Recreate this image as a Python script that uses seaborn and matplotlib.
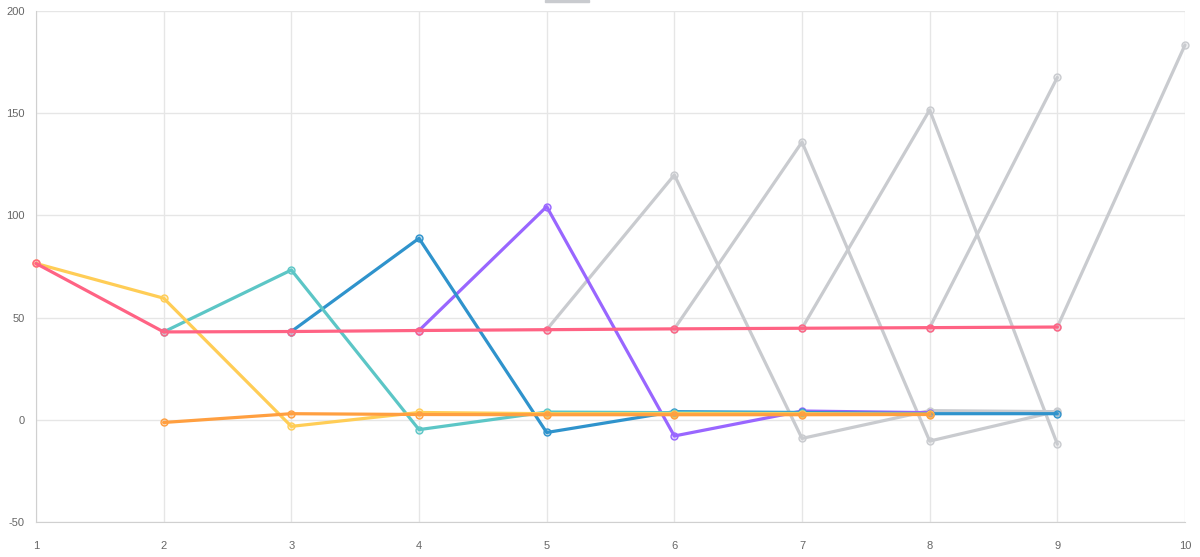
import numpy as np
import pandas as pd
import matplotlib
matplotlib.use("Agg")
import matplotlib.pyplot as plt
import matplotlib.colors as mcolors
from matplotlib.patches import Rectangle
import seaborn as sns

nan = np.nan
x = [1, 2, 3, 4, 5, 6, 7, 8, 9, 10]

pink = [76.5, 43.0, 43.2, 43.7, 44.1, 44.5, 44.8, 45.1, 45.4, nan]
orange = [nan, -1.3, 3.0, 2.6, 2.5, 2.5, 2.5, 2.6, nan, nan]
yellow = [76.5, 59.5, -3.2, 3.6, 3.0, 3.0, 3.0, 2.8, nan, nan]
teal = [nan, 43.0, 73.3, -4.8, 3.8, 3.5, 3.2, nan, nan, nan]
blue = [nan, nan, 43.2, 88.8, -6.2, 4.0, 3.6, 3.0, 3.0, nan]
purple = [nan, nan, nan, 43.7, 104.3, -7.9, 4.3, 3.5, nan, nan]
gray1 = [nan, nan, nan, nan, 44.1, 119.8, -9.1, 4.5, 4.0, nan]
gray2 = [nan, nan, nan, nan, nan, 44.5, 135.9, -10.4, 4.2, nan]
gray3 = [nan, nan, nan, nan, nan, nan, 44.8, 151.6, -11.9, nan]
gray4 = [nan, nan, nan, nan, nan, nan, nan, 45.1, 167.5, nan]
gray5 = [nan, nan, nan, nan, nan, nan, nan, nan, 45.4, 183.4]

y_ticks = [-50, 0, 50, 100, 150, 200]

# series drawn top-most first
series = [
    ("pink", pink, "#ff6384"),
    ("orange", orange, "#ff9f40"),
    ("yellow", yellow, "#ffcd56"),
    ("teal", teal, "#5cc6c6"),
    ("blue", blue, "#2f93cc"),
    ("purple", purple, "#9966ff"),
    ("gray1", gray1, "#c9cbcf"),
    ("gray2", gray2, "#c9cbcf"),
    ("gray3", gray3, "#c9cbcf"),
    ("gray4", gray4, "#c9cbcf"),
    ("gray5", gray5, "#c9cbcf"),
]

sns.set_style("white")
plt.rcParams["font.family"] = ["Liberation Sans", "DejaVu Sans"]
plt.rcParams["axes.unicode_minus"] = False

fig = plt.figure(figsize=(12, 5.57), dpi=100)
ax = fig.add_axes([0.03, 0.0628, 0.9575, 0.9174])

n = len(series)
for i, (name, vals, col) in enumerate(series):
    df = pd.DataFrame({"x": x, "y": vals}).dropna()
    sns.lineplot(
        data=df, x="x", y="y", ax=ax,
        color=col, linewidth=2.3, marker="o", markersize=5,
        markerfacecolor=mcolors.to_rgba(col, 0.3),
        markeredgecolor=col, markeredgewidth=1.0,
        zorder=10 + n - i, clip_on=False,
    )

ax.set_xlim(1, 10)
ax.set_ylim(-50, 200)
ax.set_xticks(x)
ax.set_yticks(y_ticks)
ax.set_xlabel("")
ax.set_ylabel("")
ax.grid(True, color="#e6e6e6", linewidth=1)
ax.set_axisbelow(True)
for s in ["top", "right"]:
    ax.spines[s].set_visible(False)
ax.spines["left"].set_color("#d0d0d0")
ax.spines["bottom"].set_color("#d0d0d0")
ax.tick_params(axis="both", colors="#e6e6e6", labelcolor="#666666",
               labelsize=8, length=6, width=1, direction="out")
ax.tick_params(axis="x", pad=8)
ax.tick_params(axis="y", pad=2)

# legend swatch cut off at top
fig.patches.append(Rectangle((545 / 1200, 1 - 2 / 557), 44 / 1200, 2 / 557,
                             transform=fig.transFigure, color="#c9cbcf"))

fig.savefig("out.png", dpi=100, facecolor="white")
